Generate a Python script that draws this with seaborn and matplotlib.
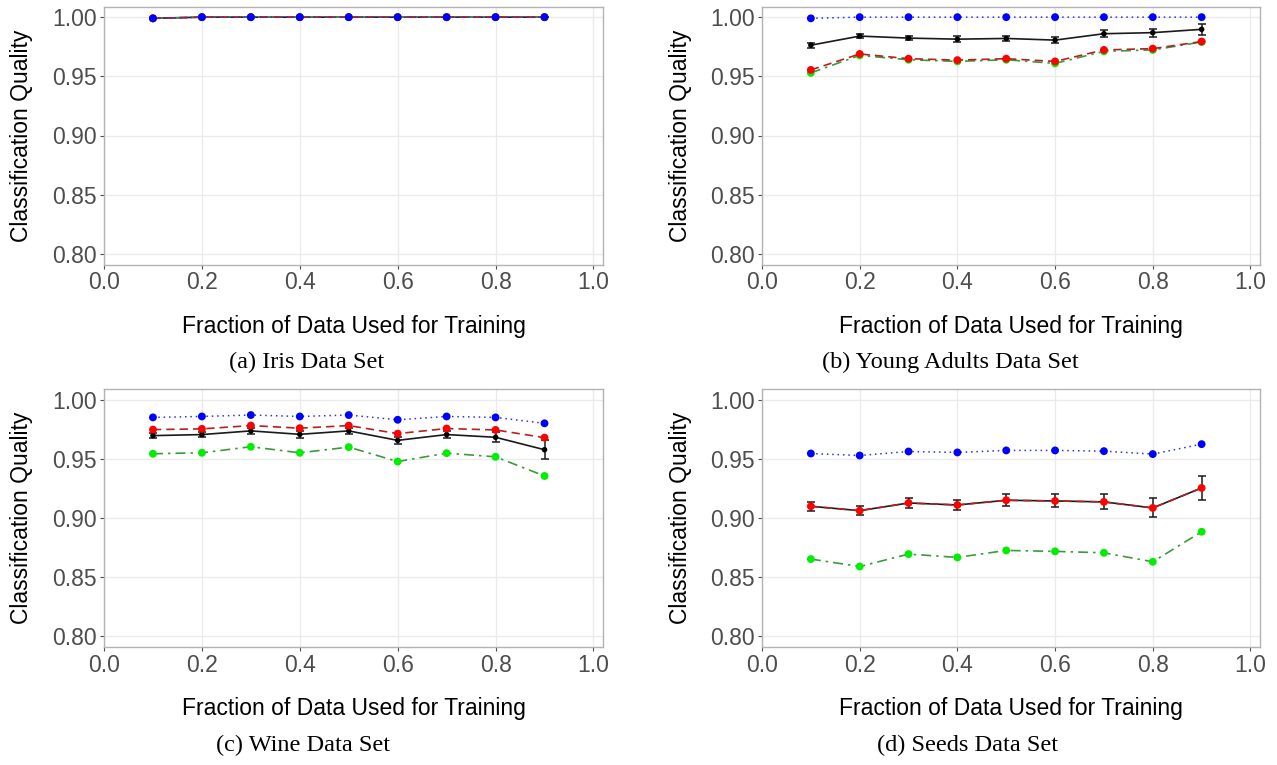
import numpy as np
import pandas as pd
import matplotlib
matplotlib.use("Agg")
import matplotlib.pyplot as plt
import seaborn as sns

sns.set_theme(style="white")
plt.rcParams['font.family'] = ['Liberation Sans', 'DejaVu Sans']

fractions = [0.1, 0.2, 0.3, 0.4, 0.5, 0.6, 0.7, 0.8, 0.9]

# (a) Iris
iris_blue = [0.999, 1.0, 1.0, 1.0, 1.0, 1.0, 1.0, 1.0, 1.0]
iris_red = [0.999, 1.0, 1.0, 1.0, 1.0, 1.0, 1.0, 1.0, 1.0]
iris_green = [0.999, 1.0, 1.0, 1.0, 1.0, 1.0, 1.0, 1.0, 1.0]
iris_black = [0.999, 1.0, 1.0, 1.0, 1.0, 1.0, 1.0, 1.0, 1.0]
iris_err = [0.0, 0.0, 0.0, 0.0, 0.0, 0.0, 0.0, 0.0, 0.0]

# (b) Young Adults
ya_blue = [0.999, 1.0, 1.0, 1.0, 1.0, 1.0, 1.0, 1.0, 1.0]
ya_red = [0.9554, 0.9689, 0.9649, 0.9637, 0.9649, 0.9626, 0.9723, 0.9734, 0.9794]
ya_green = [0.9529, 0.9677, 0.9640, 0.9626, 0.9640, 0.9609, 0.9711, 0.9723, 0.9790]
ya_black = [0.9763, 0.9840, 0.9823, 0.9814, 0.9820, 0.9806, 0.9860, 0.9869, 0.9897]
ya_err = [0.0020, 0.0017, 0.0020, 0.0023, 0.0023, 0.0025, 0.0030, 0.0035, 0.0049]

# (c) Wine
wine_blue = [0.9850, 0.9858, 0.9870, 0.9858, 0.9870, 0.9830, 0.9858, 0.9850, 0.9800]
wine_red = [0.9747, 0.9753, 0.9781, 0.9759, 0.9781, 0.9713, 0.9756, 0.9744, 0.9679]
wine_green = [0.9543, 0.9551, 0.9602, 0.9551, 0.9599, 0.9477, 0.9548, 0.9517, 0.9355]
wine_black = [0.9696, 0.9705, 0.9736, 0.9707, 0.9736, 0.9656, 0.9705, 0.9682, 0.9577]
wine_err = [0.0020, 0.0020, 0.0025, 0.0028, 0.0025, 0.0030, 0.0030, 0.0043, 0.0080]

# (d) Seeds
seeds_blue = [0.9545, 0.9528, 0.9562, 0.9554, 0.9571, 0.9571, 0.9565, 0.9540, 0.9624]
seeds_red = [0.9099, 0.9062, 0.9127, 0.9110, 0.9150, 0.9144, 0.9136, 0.9085, 0.9254]
seeds_green = [0.8653, 0.8590, 0.8695, 0.8667, 0.8726, 0.8718, 0.8706, 0.8630, 0.8884]
seeds_black = [0.9099, 0.9062, 0.9127, 0.9110, 0.9150, 0.9144, 0.9136, 0.9085, 0.9254]
seeds_err = [0.0040, 0.0040, 0.0042, 0.0045, 0.0050, 0.0055, 0.0064, 0.0080, 0.0100]

y_ticks = [0.80, 0.85, 0.90, 0.95, 1.00]
x_ticks = [0.0, 0.2, 0.4, 0.6, 0.8, 1.0]
captions = ["(a) Iris Data Set", "(b) Young Adults Data Set",
            "(c) Wine Data Set", "(d) Seeds Data Set"]

panels = [
    (iris_blue, iris_red, iris_green, iris_black, iris_err),
    (ya_blue, ya_red, ya_green, ya_black, ya_err),
    (wine_blue, wine_red, wine_green, wine_black, wine_err),
    (seeds_blue, seeds_red, seeds_green, seeds_black, seeds_err),
]

W, H = 1277, 765
fig = plt.figure(figsize=(W / 100, H / 100), dpi=100)

# pixel boxes: left, right, top, bottom
boxes = [(104, 603, 6.5, 264.5), (762, 1260, 6.5, 264.5),
         (104, 603, 389, 647), (762, 1260, 389, 647)]
cap_pos = [(307, 362), (950, 362), (303, 745), (968, 745)]
xlab_y = [326, 326, 708, 708]
ylab_x = [22, 680, 22, 680]

tick_gray = "#4d4d4d"
frame_gray = "#b3b3b3"
grid_col = "#ebebeb"

for i, (blue, red, green, black, err) in enumerate(panels):
    l, r, t, b = boxes[i]
    ax = fig.add_axes([l / W, 1 - b / H, (r - l) / W, (b - t) / H])
    df = pd.DataFrame({"x": fractions, "blue": blue, "red": red,
                       "green": green, "black": black, "err": err})

    # black series with error bars
    ax.errorbar(df["x"], df["black"], yerr=df["err"], fmt="none",
                ecolor="#1a1a1a", elinewidth=1.1, capsize=3, capthick=1.1, zorder=2)
    sns.lineplot(data=df, x="x", y="black", ax=ax, color="#1a1a1a",
                 linewidth=1.2, zorder=2)
    sns.scatterplot(data=df, x="x", y="black", ax=ax, color="black",
                    s=16, edgecolor="none", zorder=3)

    # green dash-dot
    sns.lineplot(data=df, x="x", y="green", ax=ax, color="#3c9a3c",
                 linewidth=1.2, zorder=4)
    ax.lines[-1].set_dashes([6, 3, 1.5, 3])
    sns.scatterplot(data=df, x="x", y="green", ax=ax, color="#00ee00",
                    s=32, edgecolor="none", zorder=5)

    # red dashed
    sns.lineplot(data=df, x="x", y="red", ax=ax, color="#b22222",
                 linewidth=1.2, zorder=6)
    ax.lines[-1].set_dashes([5, 3])
    sns.scatterplot(data=df, x="x", y="red", ax=ax, color="#ff0000",
                    s=32, edgecolor="none", zorder=7)

    # blue dotted
    sns.lineplot(data=df, x="x", y="blue", ax=ax, color="#3030e0",
                 linewidth=1.1, zorder=8)
    ax.lines[-1].set_dashes([1, 2.5])
    sns.scatterplot(data=df, x="x", y="blue", ax=ax, color="#0000ff",
                    s=32, edgecolor="none", zorder=9)

    ax.set_xlim(0, 1.0195)
    ax.set_ylim(0.791, 1.009)
    ax.set_xticks(x_ticks)
    ax.set_yticks(y_ticks)
    ax.set_xticklabels([f"{v:.1f}" for v in x_ticks])
    ax.set_yticklabels([f"{v:.2f}" for v in y_ticks])
    ax.grid(True, color=grid_col, linewidth=1.0, zorder=0)
    ax.set_axisbelow(True)
    for s in ax.spines.values():
        s.set_color(frame_gray)
        s.set_linewidth(1.0)
    ax.tick_params(axis="both", direction="out", length=3, width=0.8,
                   color=tick_gray, labelcolor=tick_gray, labelsize=16.5, pad=2,
                   bottom=True, left=True)
    ax.set_xlabel("")
    ax.set_ylabel("")
    ax.set_facecolor("white")

    fig.text((l + r) / 2 / W, 1 - xlab_y[i] / H, "Fraction of Data Used for Training",
             ha="center", va="center", fontsize=16.5, color="black")
    fig.text(ylab_x[i] / W, 1 - ((t + b) / 2) / H, "Classification Quality",
             ha="center", va="center", rotation=90, fontsize=16.5, color="black")
    cx, cy = cap_pos[i]
    fig.text(cx / W, 1 - cy / H, captions[i], ha="center", va="center",
             fontsize=17.5, color="black", family=["Liberation Serif", "DejaVu Serif"])

fig.savefig("out.png", dpi=100)
